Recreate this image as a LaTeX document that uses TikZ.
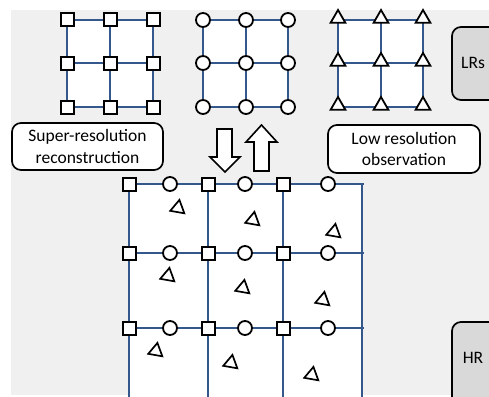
\documentclass[tikz,border=0pt]{standalone}
\usepackage{fontspec}
\setmainfont{Carlito}
\usetikzlibrary{shapes.geometric,calc}
\definecolor{bgc}{HTML}{F0F0F0}
\definecolor{gridc}{RGB}{52,88,140}
\definecolor{boxg}{HTML}{D9D9D9}
\tikzset{
  sq/.style={draw=black,line width=2pt,fill=white,minimum size=13pt,inner sep=0pt,rectangle},
  ci/.style={draw=black,line width=1.8pt,fill=white,minimum size=14pt,inner sep=0pt,circle},
  tri/.style={draw=black,line width=1.8pt,fill=white,regular polygon,regular polygon sides=3,minimum size=17pt,inner sep=0pt},
  stri/.style={draw=black,line width=1.7pt,fill=none,regular polygon,regular polygon sides=3,minimum size=16.5pt,inner sep=0pt},
  gl/.style={draw=gridc,line width=1.6pt},
  txt/.style={font=\fontsize{17.5}{21.5}\selectfont},
  lbl/.style={txt,draw=black,line width=1.7pt,fill=white,rounded corners=9pt,align=center},
  gbox/.style={draw=black,line width=1.7pt,fill=boxg,rounded corners=9pt},
  barrow/.style={draw=black,line width=1.6pt,fill=white}
}
\begin{document}
\begin{tikzpicture}[x=1pt,y=-1pt]
\useasboundingbox (0,0) rectangle (489,396);
\fill[white] (0,0) rectangle (489,396);
\fill[bgc] (11,10) rectangle (489,395);
% ---------- small grids ----------
\foreach \g/\xa/\xb/\xc in {A/67/110/153, B/203/246/288, C/338/381/423}{
  \fill[white] (\xa,20) rectangle (\xc,107);
  \foreach \c/\x in {1/\xa,2/\xb,3/\xc}{
    \foreach \r/\y in {1/20,2/63,3/107}{
      \coordinate (\g\r\c) at (\x,\y);
    }
  }
  \foreach \r in {1,2,3}{\draw[gl] (\g\r1) -- (\g\r3);}
  \foreach \c in {1,2,3}{\draw[gl] (\g1\c) -- (\g3\c);}
}
\foreach \r in {1,2,3}{\foreach \c in {1,2,3}{
  \node[sq] (mA\r\c) at (A\r\c) {};
  \node[ci] (mB\r\c) at (B\r\c) {};
  \node[tri] (mC\r\c) at ($(C\r\c)+(0,-1.5)$) {};
}}
% ---------- gray boxes ----------
\draw[gbox] (452,27) rectangle (505,100);
\node[txt] (lrs) at (473,63) {LRs};
\draw[gbox] (452,322) rectangle (505,410);
\node[txt] (hr) at (473,358) {HR};
% ---------- label boxes ----------
\node[lbl,minimum width=151pt,minimum height=47pt] (sr) at (87.5,146.5) {Super-resolution\\reconstruction};
\node[lbl,minimum width=152pt,minimum height=48pt] (lo) at (404,149) {Low resolution\\observation};
% ---------- block arrows ----------
\draw[barrow] (217,129) -- (232,129) -- (232,157) -- (240,157) -- (225,172) -- (210,157) -- (217,157) -- cycle;
\draw[barrow] (254,171) -- (269,171) -- (269,142) -- (277,142) -- (261.5,125) -- (246,142) -- (254,142) -- cycle;
% ---------- large grid ----------
\fill[white] (129,184) rectangle (362,400);
\foreach \x/\n in {129/1,208/2,283/3,362/4}{
  \coordinate (T\n) at (\x,184);
  \coordinate (B\n) at (\x,400);
  \draw[gl] (T\n) -- (B\n);
}
\foreach \y/\n in {184/1,253/2,328/3}{
  \coordinate (L\n) at (129,\y);
  \coordinate (R\n) at (364,\y);
  \draw[gl] (L\n) -- (R\n);
}
\foreach \y/\r in {184/1,253/2,328/3}{
  \foreach \x/\c in {129/1,208/2,283/3}{\node[sq] (hs\r\c) at (\x,\y) {};}
  \foreach \x/\c in {170/1,245/2,328/3}{\node[ci] (hc\r\c) at (\x,\y) {};}
}
\foreach \x/\y/\n in {178/208/1,253/220/2,334/232/3,168/276/4,243/288/5,323/300/6,156/351/7,231/363/8,312/375/9}{
  \node[stri,rotate=-10] (ht\n) at (\x,\y) {};
}
\end{tikzpicture}
\end{document}
